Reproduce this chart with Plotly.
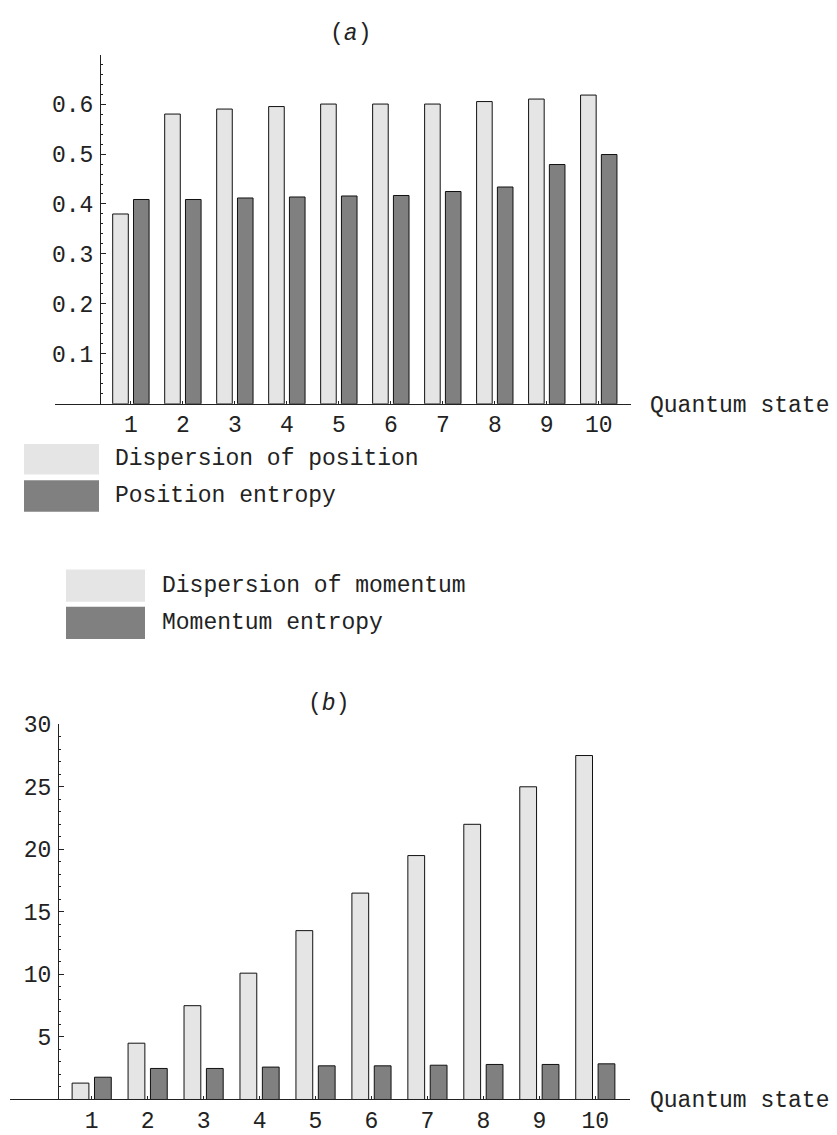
import plotly.graph_objects as go

# Quantum states on the horizontal axis
states = [1, 2, 3, 4, 5, 6, 7, 8, 9, 10]

# Panel (a): position-space measures
dispersion_position = [0.38, 0.58, 0.59, 0.595, 0.60, 0.60, 0.60, 0.605, 0.61, 0.618]
position_entropy = [0.409, 0.409, 0.412, 0.414, 0.416, 0.417, 0.425, 0.434, 0.479, 0.499]

# Panel (b): momentum-space measures
dispersion_momentum = [1.31, 4.5, 7.5, 10.1, 13.5, 16.5, 19.5, 22.0, 25.0, 27.5]
momentum_entropy = [1.78, 2.48, 2.48, 2.59, 2.69, 2.69, 2.74, 2.80, 2.80, 2.85]

ticks_a = [0.1, 0.2, 0.3, 0.4, 0.5, 0.6]
ticks_b = [5, 10, 15, 20, 25, 30]

W, H = 837, 1135
FONT = "Liberation Mono, Courier New, monospace"
FS = 23
INK = "#222222"
LIGHT = "#e5e5e5"
DARK = "#808080"


def px(x):
    return x / W


def py(y):
    return 1 - y / H


fig = go.Figure()

bar_line = dict(color="#111111", width=1)
fig.add_trace(go.Bar(x=states, y=dispersion_position, marker=dict(color=LIGHT, line=bar_line),
                     xaxis="x", yaxis="y", showlegend=False))
fig.add_trace(go.Bar(x=states, y=position_entropy, marker=dict(color=DARK, line=bar_line),
                     xaxis="x", yaxis="y", showlegend=False))
fig.add_trace(go.Bar(x=states, y=dispersion_momentum, marker=dict(color=LIGHT, line=bar_line),
                     xaxis="x2", yaxis="y2", showlegend=False))
fig.add_trace(go.Bar(x=states, y=momentum_entropy, marker=dict(color=DARK, line=bar_line),
                     xaxis="x2", yaxis="y2", showlegend=False))

xrange = [-0.46, 10.62]
tickfont = dict(family=FONT, size=FS, color=INK)

common_x = dict(range=xrange, showgrid=False, zeroline=False, showline=True,
                linecolor=INK, linewidth=1, ticks="inside", ticklen=3, tickcolor=INK,
                tickvals=states, ticktext=[str(s) for s in states], tickfont=tickfont)
common_y = dict(showgrid=False, zeroline=False, showline=True, linecolor=INK, linewidth=1,
                ticks="inside", ticklen=5, tickcolor=INK, tickfont=tickfont, anchor="free",
                ticklabelstandoff=2)

fig.update_layout(
    width=W, height=H,
    margin=dict(l=0, r=0, t=0, b=0),
    paper_bgcolor="white", plot_bgcolor="white",
    barmode="group", bargap=0.2, bargroupgap=0.25,
    xaxis=dict(domain=[px(55), px(631)], anchor="y", **common_x),
    yaxis=dict(domain=[py(401), py(45)], range=[0, 0.698], position=px(100),
               tickvals=ticks_a, ticktext=[f"{t:.1f}" for t in ticks_a],
               minor=dict(ticks="inside", ticklen=2, dtick=0.02, tick0=0, tickcolor=INK),
               **common_y),
    xaxis2=dict(domain=[px(10), px(630)], anchor="y2", **common_x),
    yaxis2=dict(domain=[py(1111), py(728)], range=[0, 30], position=px(58),
                tickvals=ticks_b, ticktext=[str(t) for t in ticks_b],
                minor=dict(ticks="inside", ticklen=2, dtick=1, tick0=0, tickcolor=INK),
                **common_y),
)

# Panel titles and axis captions
annots = [
    dict(text="(<i>a</i>)", x=px(350), y=py(23)),
    dict(text="(<i>b</i>)", x=px(328), y=py(707)),
]
for a in annots:
    fig.add_annotation(xref="paper", yref="paper", xanchor="center", yanchor="middle",
                       showarrow=False, font=dict(family=FONT, size=FS, color=INK), **a)

for ycap in (403, 1113):
    fig.add_annotation(text="Quantum state", xref="paper", yref="paper", x=px(648), y=py(ycap),
                       xanchor="left", yanchor="middle", showarrow=False,
                       font=dict(family=FONT, size=FS, color=INK))

# Legend keys drawn as swatches with labels
legend_items = [
    (24, 99, 442, 473, LIGHT, "Dispersion of position", 113),
    (24, 99, 479, 511, DARK, "Position entropy", 113),
    (66, 145, 570, 603, LIGHT, "Dispersion of momentum", 160),
    (66, 145, 608, 641, DARK, "Momentum entropy", 160),
]
for x0, x1, y0, y1, col, label, tx in legend_items:
    fig.add_shape(type="rect", xref="paper", yref="paper", x0=px(x0), x1=px(x1),
                  y0=py(y1), y1=py(y0), fillcolor=col, line=dict(width=0))
    fig.add_annotation(text=label, xref="paper", yref="paper", x=px(tx), y=py((y0 + y1) / 2),
                       xanchor="left", yanchor="middle", showarrow=False,
                       font=dict(family=FONT, size=FS, color=INK))

fig.write_html("out.html")
